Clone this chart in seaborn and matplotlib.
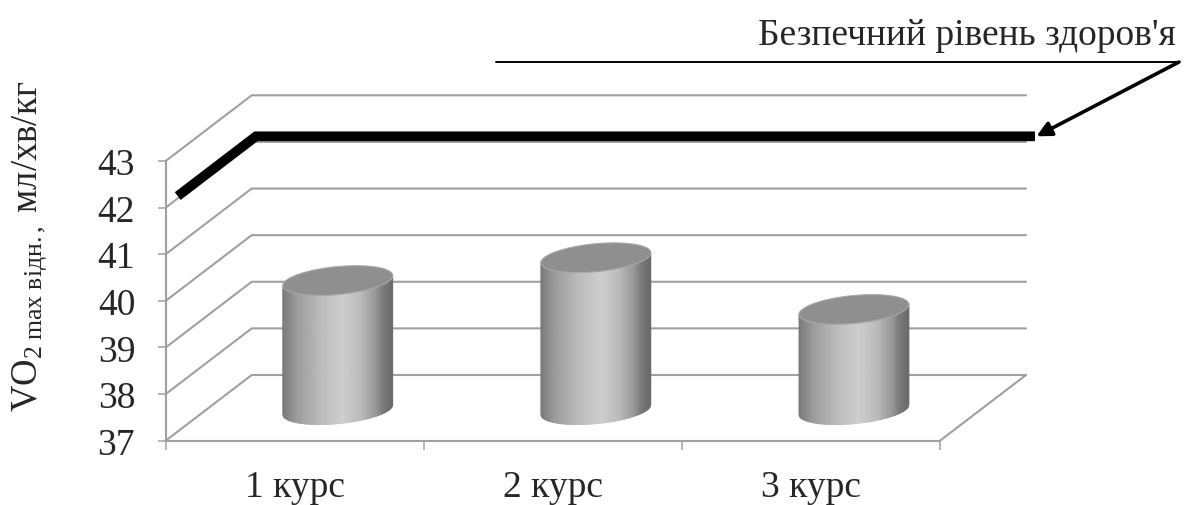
import numpy as np
import pandas as pd
import matplotlib
matplotlib.use("Agg")
import matplotlib.pyplot as plt
import matplotlib.transforms as mtransforms
from matplotlib.collections import PolyCollection
from matplotlib.patches import Polygon
from matplotlib.lines import Line2D
from matplotlib.colors import LinearSegmentedColormap
import seaborn as sns

# ---- data -------------------------------------------------------------
courses = ["1 курс", "2 курс", "3 курс"]
vo2max = [39.77, 40.26, 39.15]
safe_level = 42.05
y_ticks = [37, 38, 39, 40, 41, 42, 43]
safe_label = "Безпечний рівень здоров'я"
y_label = r"$\mathrm{VO_{2\ max\ відн.,}}$ мл/хв/кг"

# ---- style ------------------------------------------------------------
sns.set_theme(style="white")
plt.rcParams["font.family"] = ["Liberation Serif", "DejaVu Serif"]
plt.rcParams["mathtext.fontset"] = "custom"
plt.rcParams["mathtext.rm"] = "Liberation Serif"
plt.rcParams["mathtext.it"] = "Liberation Serif:italic"

GRID = "#a0a0a0"
W, H, DPI = 1191, 506, 100
fig = plt.figure(figsize=(W / DPI, H / DPI), dpi=DPI)
fig.patch.set_facecolor("white")

# front face of the 3-D box, in figure pixels (y measured from the top)
FL, FR, FB, FT = 165.7, 940.0, 441.7, 162.0
BACK = (86.0, 65.7)   # depth offset of the back wall
MID = (43.0, 31.0)    # depth offset of the plane holding the columns


def rect(dx=0.0, dy=0.0):
    return [(FL + dx) / W, (H - FB + dy) / H, (FR - FL) / W, (FB - FT) / H]


ax = fig.add_axes(rect())
axm = fig.add_axes(rect(*MID))
for a in (ax, axm):
    a.set_facecolor("none")

ax.set_xlim(-0.5, 2.5)
ax.set_ylim(y_ticks[0], y_ticks[-1])

# data-unit size of the depth offset
sx = (FR - FL) / 3.0
sy = (FB - FT) / (y_ticks[-1] - y_ticks[0])
DXd, DYd = BACK[0] / sx, BACK[1] / sy

# ---- box: side-wall diagonals and back-wall gridlines --------------------
for v in y_ticks:
    ax.plot([-0.5, -0.5 + DXd, 2.5 + DXd], [v, v + DYd, v + DYd],
            color=GRID, lw=1.5, clip_on=False, zorder=1)
# floor right edge
ax.plot([2.5, 2.5 + DXd], [y_ticks[0], y_ticks[0] + DYd],
        color=GRID, lw=1.5, clip_on=False, zorder=1)

# front axes: spines and ticks
for side in ("top", "right"):
    ax.spines[side].set_visible(False)
for side in ("left", "bottom"):
    ax.spines[side].set_color(GRID)
    ax.spines[side].set_linewidth(1.5)
ax.set_yticks(y_ticks)
ax.set_yticklabels([str(t) for t in y_ticks])
ax.set_xticks(range(len(courses)))
ax.set_xticklabels(courses)
ax.set_xticks([-0.5, 0.5, 1.5, 2.5], minor=True)
ax.tick_params(axis="y", which="major", length=6.0, width=1.1, color=GRID,
               direction="out", pad=16, labelsize=27, left=True)
ax.tick_params(axis="x", which="major", length=0, pad=21, labelsize=27,
               bottom=True)
ax.tick_params(axis="x", which="minor", length=6.5, width=1.1, color=GRID,
               direction="out", bottom=True)
ax.grid(False)

# ---- safe health level: thick line along side wall and back wall --------
f0, f1 = 0.14, 1.05
sl_x = [-0.5 + f0 * DXd, -0.5 + f1 * DXd, 2.5 + f1 * DXd + 0.018]
sl_y = [safe_level + f0 * DYd, safe_level + f1 * DYd, safe_level + f1 * DYd]
ax.plot(sl_x, sl_y, color="black", lw=7.0, solid_capstyle="butt",
        solid_joinstyle="miter", clip_on=False, zorder=3)

# ---- columns ---------------------------------------------------------
df = pd.DataFrame({"course": courses, "vo2max": vo2max})
sns.barplot(data=df, x="course", y="vo2max", ax=axm, width=0.426,
            color="#a8a8a8", order=courses)
axm.set_xlim(-0.5, 2.5)
axm.set_ylim(y_ticks[0], y_ticks[-1])
axm.axis("off")

shade = LinearSegmentedColormap.from_list("cyl", [
    (0.00, "#787878"), (0.12, "#9a9a9a"), (0.35, "#bcbcbc"),
    (0.55, "#cecece"), (0.72, "#bababa"), (0.85, "#989898"),
    (0.92, "#7a7a7a"), (1.00, "#6a6a6a")])

ident = mtransforms.IdentityTransform()
B_PX = 14.0        # half-height of the elliptical caps
SHEAR = 0.09       # caps rise towards the right
for bar in axm.patches:
    x0, w, top = bar.get_x(), bar.get_width(), bar.get_height()
    (left, yb), (right, yt) = axm.transData.transform(
        [(x0, y_ticks[0]), (x0 + w, top)])
    bar.set_visible(False)
    cx, a = (left + right) / 2.0, (right - left) / 2.0

    # body as vertical strips with a horizontal shading profile
    n = 120
    xs = np.linspace(left, right, n + 1)
    u = np.clip((xs - cx) / a, -1, 1)
    tops = yt + SHEAR * (xs - cx)
    bots = yb + SHEAR * (xs - cx) - B_PX * np.sqrt(1 - u ** 2)
    polys, cols = [], []
    for i in range(n):
        polys.append([(xs[i], tops[i]), (xs[i], bots[i]),
                      (xs[i + 1], bots[i + 1]), (xs[i + 1], tops[i + 1])])
        cols.append(shade((i + 0.5) / n))
    pc = PolyCollection(polys, facecolors=cols, edgecolors=cols,
                        linewidths=0.6, transform=ident, clip_on=False,
                        zorder=2)
    axm.add_collection(pc, autolim=False)

    # top cap
    t = np.linspace(0, 2 * np.pi, 200)
    cap = np.column_stack([cx + a * np.cos(t),
                           yt + B_PX * np.sin(t) + SHEAR * a * np.cos(t)])
    axm.add_patch(Polygon(cap, closed=True, facecolor="#8f8f8f",
                          edgecolor="#a8a8a8", lw=0.8, transform=ident,
                          clip_on=False, zorder=3))

# ---- annotation ----------------------------------------------------------
fig.text(1176 / W, 1 - 45 / H, safe_label, ha="right", va="baseline",
         fontsize=27)
fig.add_artist(Line2D([496 / W, 1179 / W], [1 - 63 / H, 1 - 63 / H],
                      transform=fig.transFigure, color="black", lw=1.4))
ax.annotate("", xy=(sl_x[-1] + 0.006, sl_y[-1]),
            xytext=(1179 / W, 1 - 63 / H), textcoords="figure fraction",
            arrowprops=dict(arrowstyle="-|>", color="black", lw=2.6,
                            mutation_scale=22, shrinkA=0, shrinkB=0),
            annotation_clip=False)

# ---- y axis title --------------------------------------------------------
fig.text(30 / W, 1 - 246 / H, y_label, rotation=90, ha="center",
         va="center", fontsize=26.5)

fig.savefig("out.png", dpi=DPI, facecolor="white")
